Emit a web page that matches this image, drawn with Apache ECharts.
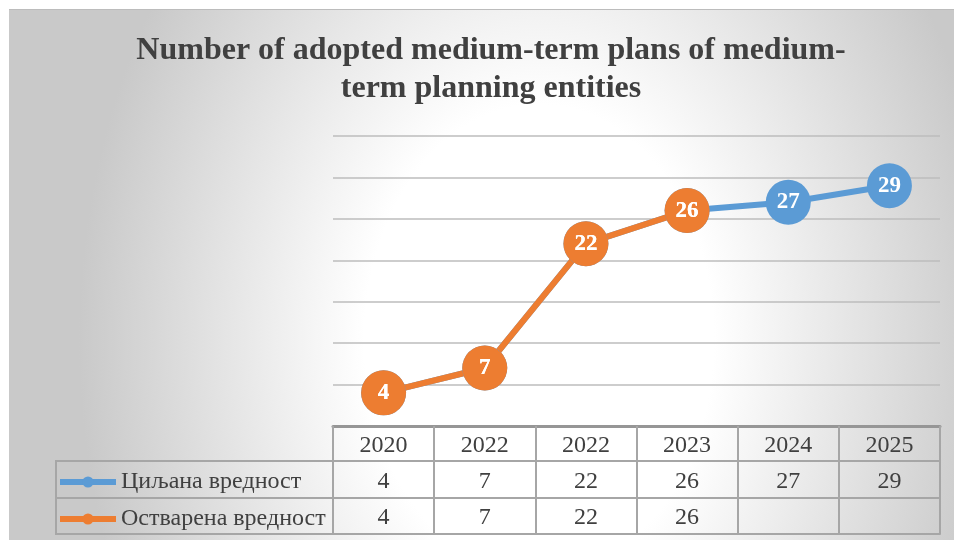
<!DOCTYPE html>
<html>
<head>
<meta charset="utf-8">
<script src="https://cdn.jsdelivr.net/npm/echarts@6/dist/echarts.min.js"></script>
<style>
  html, body { margin: 0; padding: 0; background: #ffffff; }
  #frame {
    position: absolute; left: 9px; top: 9px; width: 945px; height: 531px;
    box-sizing: border-box; border-top: 1px solid #bcbcbc;
    background: radial-gradient(ellipse 460px 620px at 530px 330px, #ffffff 0%, #ffffff 38%, #c9c9c9 100%);
  }
  #chart { position: absolute; left: 0; top: 0; width: 954px; height: 540px; }
</style>
</head>
<body>
<div id="frame"></div>
<div id="chart"></div>
<script>
// Plan counts per year: target vs. achieved
const years = ['2020', '2022', '2022', '2023', '2024', '2025'];
const targetValues = [4, 7, 22, 26, 27, 29];
const actualValues = [4, 7, 22, 26, null, null];
const seriesNames = ['Циљана вредност', 'Остварена вредност'];
const chartTitle = 'Number of adopted medium-term plans of medium-\nterm planning entities';

const SERIF = 'Liberation Serif, Times New Roman, serif';
const TEXT_COLOR = '#404040';
const BORDER = '#a6a6a6';

const cellText = v => (v == null ? '' : String(v));

// One category axis per table row; ticks act as the column separators
function tableAxis(data, offset, tickLen, margin, lineStyle, showLabels) {
  return {
    type: 'category',
    gridIndex: 0,
    position: 'bottom',
    offset: offset,
    data: data,
    boundaryGap: true,
    axisLine: { show: true, lineStyle: lineStyle },
    axisTick: { show: tickLen > 0, interval: 0, length: tickLen, lineStyle: { color: BORDER, width: 2 } },
    axisLabel: {
      show: showLabels, interval: 0, margin: margin,
      fontFamily: SERIF, fontSize: 24, color: TEXT_COLOR
    },
    splitLine: { show: false }
  };
}

const chart = echarts.init(document.getElementById('chart'), null, { renderer: 'canvas' });

const option = {
  animation: false,
  title: {
    text: chartTitle,
    left: 486,
    top: 27,
    textAlign: 'center',
    textStyle: {
      fontFamily: SERIF, fontSize: 32, fontWeight: 'bold',
      color: TEXT_COLOR, lineHeight: 38
    }
  },
  legend: {
    orient: 'vertical',
    left: 52,
    top: 465,
    itemWidth: 56,
    itemHeight: 14,
    itemGap: 13,
    data: seriesNames,
    lineStyle: { width: 6 },
    textStyle: { fontFamily: SERIF, fontSize: 24, color: TEXT_COLOR, lineHeight: 24 },
    selectedMode: false
  },
  grid: { left: 333, right: 14, top: 136, bottom: 114, containLabel: false },
  xAxis: [
    tableAxis(years, 0, 35, 8, { color: '#969696', width: 3 }, true),
    tableAxis(targetValues.map(cellText), 35, 37, 9, { color: BORDER, width: 2 }, true),
    tableAxis(actualValues.map(cellText), 72, 36, 8, { color: BORDER, width: 2 }, true),
    tableAxis(years.map(() => ''), 108, 0, 0, { color: BORDER, width: 2 }, false)
  ],
  yAxis: {
    type: 'value',
    min: 0,
    max: 35,
    interval: 5,
    axisLabel: { show: false },
    axisLine: { show: false },
    axisTick: { show: false },
    splitLine: { show: true, lineStyle: { color: '#bdbdbd', width: 1.5 } }
  },
  graphic: [
    // name column of the data table
    { type: 'rect', shape: { x: 56, y: 461, width: 277, height: 37 }, style: { fill: 'transparent', stroke: BORDER, lineWidth: 2 }, silent: true },
    { type: 'rect', shape: { x: 56, y: 498, width: 277, height: 36 }, style: { fill: 'transparent', stroke: BORDER, lineWidth: 2 }, silent: true }
  ],
  series: [
    {
      name: seriesNames[0],
      type: 'line',
      data: targetValues,
      xAxisIndex: 0,
      color: '#5b9bd5',
      symbol: 'circle',
      symbolSize: 45,
      lineStyle: { width: 6, color: '#5b9bd5' },
      itemStyle: { color: '#5b9bd5' },
      label: {
        show: true, position: 'inside', color: '#ffffff',
        fontFamily: SERIF, fontSize: 23, fontWeight: 'bold'
      }
    },
    {
      name: seriesNames[1],
      type: 'line',
      data: actualValues,
      xAxisIndex: 0,
      color: '#ed7d31',
      symbol: 'circle',
      symbolSize: 45,
      lineStyle: { width: 6, color: '#ed7d31' },
      itemStyle: { color: '#ed7d31' },
      label: {
        show: true, position: 'inside', color: '#ffffff',
        fontFamily: SERIF, fontSize: 23, fontWeight: 'bold'
      }
    }
  ]
};

chart.setOption(option);
</script>
</body>
</html>
